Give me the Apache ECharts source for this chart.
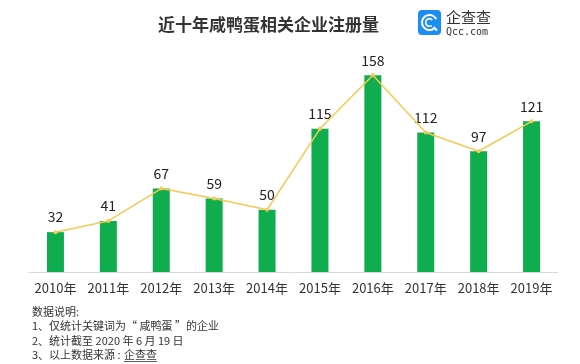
<!DOCTYPE html>
<html><head><meta charset="utf-8">
<script src="https://cdn.jsdelivr.net/npm/echarts@6/dist/echarts.min.js"></script>
<style>html,body{margin:0;padding:0;background:#fff}#c{width:580px;height:364px}</style>
</head><body><div id="c"></div>
<script>
var categories = ['2010年','2011年','2012年','2013年','2014年','2015年','2016年','2017年','2018年','2019年'];
var registrations = [32, 41, 67, 59, 50, 115, 158, 112, 97, 121];
var titleText = '近十年咸鸭蛋相关企业注册量';
var notes = ['数据说明:', '1、仅统计关键词为“ 咸鸭蛋 ”的企业', '2、统计截至 2020 年 6 月 19 日', '3、以上数据来源 :'];
var sourceName = '企查查';

var FONT = '"Noto Sans CJK SC", "Noto Sans", sans-serif';
var chart = echarts.init(document.getElementById('c'));
var noteEls = notes.map(function (t, i) {
  return { type: 'text', left: 32, top: 306 + i * 14.5,
    style: { text: t, fontSize: 11, fill: '#333', fontFamily: FONT } };
});
noteEls.push({ type: 'text', left: 124, top: 306 + 3 * 14.5,
  style: { text: sourceName, fontSize: 11, fill: '#333', fontFamily: FONT } });
chart.setOption({
  backgroundColor: '#fff',
  animation: false,
  title: { text: titleText, left: 153, top: 11,
    textStyle: { fontSize: 17, fontWeight: 'bold', color: '#333', fontFamily: FONT } },
  grid: { left: 29, right: 22, top: 23, bottom: 92 },
  xAxis: { type: 'category', data: categories,
    axisLine: { lineStyle: { color: '#d9d9d9', width: 1 } },
    axisTick: { show: false },
    axisLabel: { interval: 0, hideOverlap: false, color: '#333', fontSize: 13, margin: 10, fontFamily: FONT } },
  yAxis: { type: 'value', min: 0, max: 200, show: false, splitLine: { show: false } },
  series: [
    { type: 'bar', data: registrations, barWidth: 17,
      itemStyle: { color: '#10ad4f' },
      label: { show: true, position: 'top', distance: 8, color: '#222', fontSize: 14, fontFamily: FONT } },
    { type: 'line', data: registrations, symbol: 'circle', symbolSize: 4,
      lineStyle: { color: '#f6c955', width: 1.5 }, itemStyle: { color: '#f6c955' }, z: 3 }
  ],
  graphic: [
    { type: 'rect', shape: { x: 418, y: 10, width: 23, height: 25, r: 4 }, style: { fill: '#1b8df3' } },
    { type: 'arc', shape: { cx: 429.5, cy: 22.5, r: 7.5, startAngle: 0.3 * Math.PI, endAngle: 1.85 * Math.PI },
      style: { stroke: '#fff', lineWidth: 2, fill: null } },
    { type: 'arc', shape: { cx: 429.5, cy: 22.5, r: 3.8, startAngle: 0.3 * Math.PI, endAngle: 1.75 * Math.PI },
      style: { stroke: '#fff', lineWidth: 1.6, fill: null } },
    { type: 'line', shape: { x1: 433.5, y1: 27, x2: 437, y2: 30.5 }, style: { stroke: '#fff', lineWidth: 2 } },
    { type: 'text', left: 446, top: 10, style: { text: '企查查', fontSize: 15, fill: '#333', fontFamily: FONT } },
    { type: 'text', left: 446, top: 27, style: { text: 'Qcc.com', fontSize: 10, fill: '#333', fontFamily: '"DejaVu Sans Mono", monospace' } },
    { type: 'line', shape: { x1: 124, y1: 361.5, x2: 157, y2: 361.5 }, style: { stroke: '#333', lineWidth: 0.8 } }
  ].concat(noteEls)
});
</script></body></html>
